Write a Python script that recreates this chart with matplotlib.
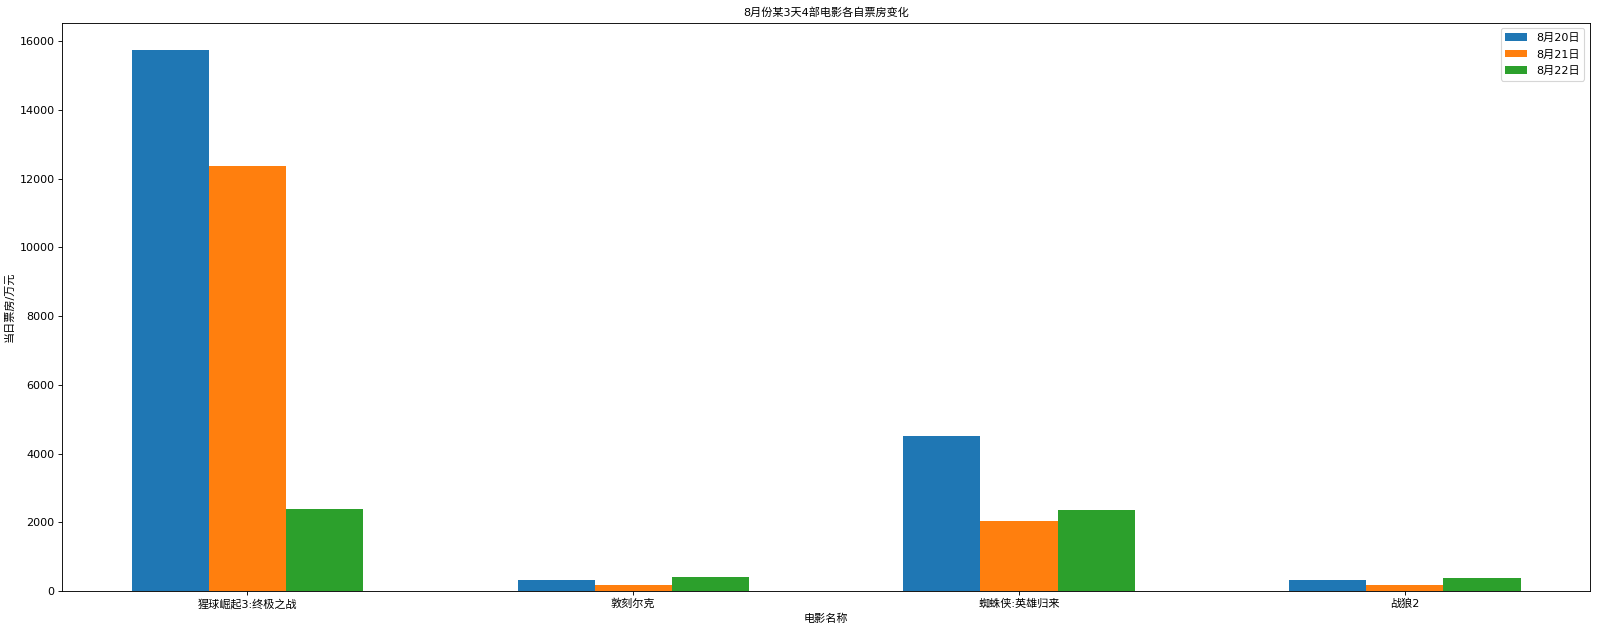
import numpy as np
import matplotlib
matplotlib.use("Agg")
import matplotlib.pyplot as plt

plt.rcParams['font.family'] = ['DejaVu Sans', 'Noto Sans CJK SC']
plt.rcParams['axes.unicode_minus'] = False

movies = ["猩球崛起3:终极之战", "敦刻尔克", "蜘蛛侠:英雄归来", "战狼2"]
days = ["8月20日", "8月21日", "8月22日"]
box_0820 = [15750, 330, 4510, 322]
box_0821 = [12380, 176, 2050, 175]
box_0822 = [2375, 410, 2370, 380]

bar_width = 0.2
x = np.arange(len(movies))

fig = plt.figure(figsize=(20, 631 / 80), dpi=80)
ax = fig.add_subplot(111)
fig.subplots_adjust(left=62.3 / 1600, right=1590 / 1600, top=1 - 22.7 / 631, bottom=1 - 591 / 631)

ax.bar(x - bar_width, box_0820, width=bar_width, label=days[0])
ax.bar(x, box_0821, width=bar_width, label=days[1])
ax.bar(x + bar_width, box_0822, width=bar_width, label=days[2])

ax.set_xticks(x)
ax.set_xticklabels(movies)
ax.set_xlabel("电影名称")
ax.set_ylabel("当日票房/万元")
ax.set_title("8月份某3天4部电影各自票房变化", fontsize=10)
ax.legend(labelspacing=0.6)

fig.savefig("out.png", dpi=80)
